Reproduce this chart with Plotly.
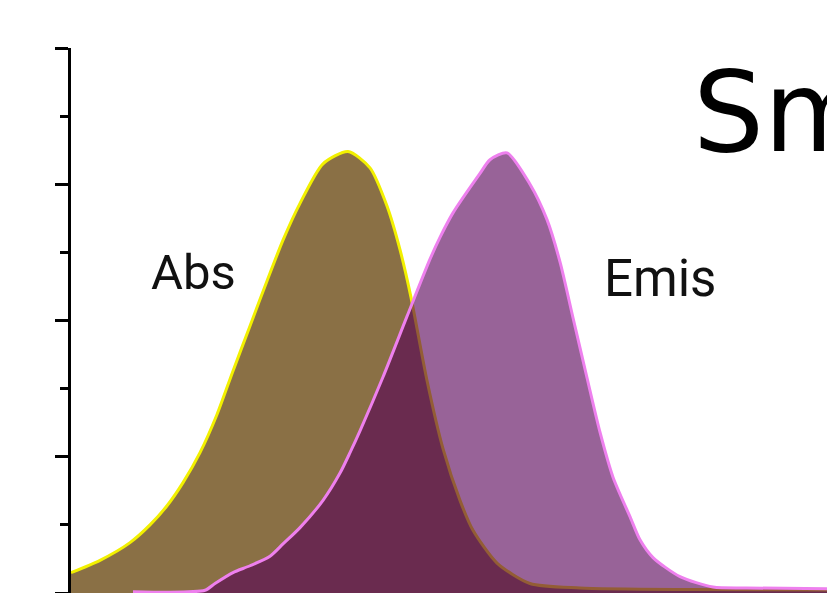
import plotly.graph_objects as go

# Positions along the spectrum axis (arbitrary units, 0..764) and intensities (0..4)
abs_x = [0, 29, 59, 79, 96, 112, 129, 146, 162, 179, 196, 212, 229, 252, 277,
         299, 316, 329, 340, 356, 372, 389, 402, 426, 459, 509, 620, 764]
abs_y = [0.15, 0.24, 0.37, 0.50, 0.64, 0.81, 1.03, 1.31, 1.63, 1.96, 2.29, 2.59, 2.86, 3.15, 3.24,
         3.12, 2.84, 2.52, 2.17, 1.56, 1.06, 0.68, 0.46, 0.22, 0.07, 0.037, 0.025, 0.022]

emis_x = [62, 134, 144, 162, 179, 199, 212, 229, 252, 269, 279, 289, 312, 336, 359, 369, 382,
          409, 419, 436, 459, 476, 489, 502, 516, 529, 542, 559, 569, 582, 609, 642, 676, 764]
emis_y = [0.01, 0.02, 0.07, 0.15, 0.20, 0.27, 0.36, 0.48, 0.68, 0.88, 1.03, 1.19, 1.585, 2.03,
          2.45, 2.61, 2.79, 3.08, 3.18, 3.23, 3.00, 2.74, 2.43, 2.02, 1.58, 1.18, 0.85, 0.56,
          0.39, 0.26, 0.12, 0.044, 0.037, 0.03]

labels = {"abs": "Abs", "emis": "Emis", "title": "Sm"}

fig = go.Figure()
fig.add_trace(go.Scatter(
    x=abs_x, y=abs_y, mode="lines", fill="tozeroy",
    line=dict(color="#f2f000", width=3, shape="spline", smoothing=0.7),
    fillcolor="rgb(138,112,69)", hoverinfo="skip", showlegend=False))
fig.add_trace(go.Scatter(
    x=emis_x, y=emis_y, mode="lines", fill="tozeroy",
    line=dict(color="#ee80ee", width=3, shape="spline", smoothing=0.7),
    fillcolor="rgba(86,0,86,0.61)", hoverinfo="skip", showlegend=False))

fig.add_annotation(x=122, y=2.35, xref="x", yref="y", text=labels["abs"], showarrow=False,
                   font=dict(family="Roboto", size=49, color="#111111"),
                   xanchor="center", yanchor="middle")
fig.add_annotation(x=589, y=2.31, xref="x", yref="y", text=labels["emis"], showarrow=False,
                   font=dict(family="Roboto", size=51, color="#111111"),
                   xanchor="center", yanchor="middle")
fig.add_annotation(x=620, y=3.53, xref="x", yref="y", text=labels["title"], showarrow=False,
                   font=dict(family="DejaVu Sans", size=112, color="#000000"),
                   xanchor="left", yanchor="middle")

fig.update_xaxes(range=[0, 764], visible=False, showgrid=False, zeroline=False)
fig.update_yaxes(range=[0, 4], dtick=1, tick0=0, ticks="outside", ticklen=13, tickwidth=3,
                 tickcolor="black", showticklabels=False, showline=True, linewidth=3,
                 linecolor="black", showgrid=False, zeroline=False,
                 minor=dict(dtick=0.5, ticks="outside", ticklen=8, tickwidth=3,
                            tickcolor="black", showgrid=False))

# the page body has an 8 px margin, so the figure is shrunk and its margins shifted to match
fig.update_layout(width=827, height=585, margin=dict(l=63, r=0, t=40, b=0),
                  plot_bgcolor="white", paper_bgcolor="white")

fig.write_html("out.html")
